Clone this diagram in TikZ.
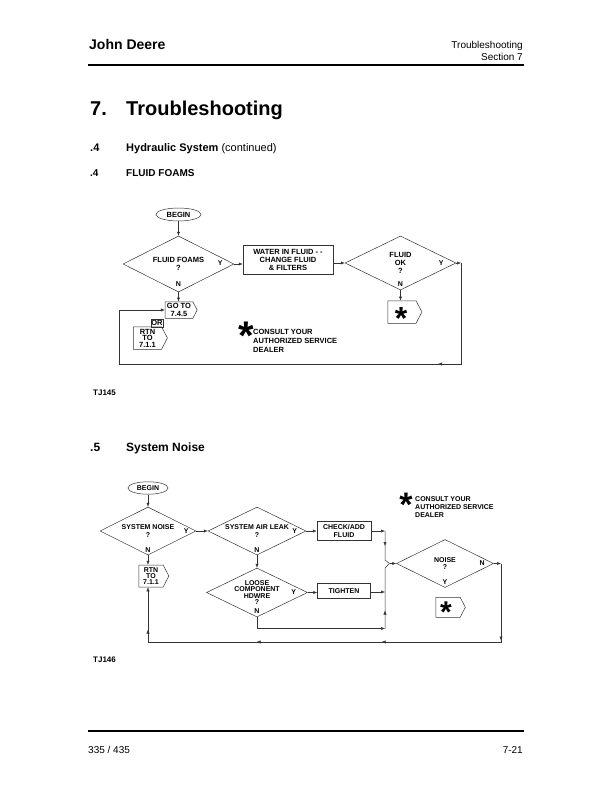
\documentclass[tikz,border=0pt]{standalone}
\usepackage{fontspec}
\setmainfont{Liberation Sans}
\usetikzlibrary{shapes.geometric,shapes.symbols,arrows.meta,calc,decorations.markings}

\begin{document}
\begin{tikzpicture}[x=1pt,y=-1pt,>={Latex[length=4pt,width=3.2pt]},
  ln/.style={draw=black!80,line width=0.5pt},
  flow/.style={ln,->},
  marr/.style={postaction={decorate,decoration={markings,mark=at position #1 with {\arrow{>}}}}},
  ctxt/.style={inner sep=0pt,align=center,font=\fontsize{7.5}{8}\selectfont\bfseries},
  stxt/.style={inner sep=0pt,align=center,font=\fontsize{7}{7.8}\selectfont\bfseries},
  term/.style={ellipse,ln},
  dec/.style={diamond,aspect=2,ln},
  proc/.style={rectangle,ln},
  offpg/.style={signal,signal to=east,signal pointer angle=125,ln},
  yn/.style={inner sep=0pt,font=\fontsize{7}{7}\selectfont\bfseries},
  ast/.style={inner sep=0pt,anchor=base,font=\fontsize{#1}{#1}\selectfont\bfseries},
  hd/.style={inner sep=0pt,anchor=base west}]
\fill[white] (0,0) rectangle (612,792);
\useasboundingbox (0,0) rectangle (612,792);

% page header and titles
\node[hd,font=\fontsize{14}{14}\selectfont\bfseries] (brand) at (89,49) {John Deere};
\node[hd,anchor=base east,font=\fontsize{10}{10}\selectfont] (sect1) at (523,48.5) {Troubleshooting};
\node[hd,anchor=base east,font=\fontsize{10}{10}\selectfont] (sect2) at (523,60.5) {Section 7};
\draw[line width=1.3pt] (88,65) -- (523.5,65);
\node[hd,font=\fontsize{20}{20}\selectfont\bfseries] (chapno) at (90,115) {7.};
\node[hd,font=\fontsize{20}{20}\selectfont\bfseries] (chap) at (126,115) {Troubleshooting};
\node[hd,font=\fontsize{11}{11}\selectfont\bfseries] (hydno) at (90,151.5) {.4};
\node[hd,font=\fontsize{11}{11}\selectfont] (hyd) at (126,151.5) {\textbf{Hydraulic System} (continued)};
\node[hd,font=\fontsize{10}{10}\selectfont\bfseries] (foamno) at (90,176.5) {.4};
\node[hd,font=\fontsize{10}{10}\selectfont\bfseries] (foam) at (126,176.5) {FLUID FOAMS};

% fluid foams chart
\node[term,ctxt,minimum width=45pt,minimum height=13pt] (beg1) at (178.5,214.5) {BEGIN};
\node[dec,ctxt,minimum width=111pt,minimum height=56pt] (ff) at (178.5,264) {FLUID FOAMS\\?};
\node[proc,ctxt,minimum width=90pt,minimum height=29.5pt] (water) at (288,259.5) {WATER IN FLUID - -\\CHANGE FLUID\\\& FILTERS};
\node[dec,ctxt,minimum width=111pt,minimum height=54pt] (ok) at (400.5,263) {FLUID\\OK\\?};
\node[offpg,minimum width=34pt,minimum height=22.5pt] (box1) at (402,312) {};
\node[offpg,ctxt,font=\fontsize{7.5}{7.5}\selectfont\bfseries,minimum width=32pt,minimum height=16.5pt] (goto) at (179,310) {GO TO\\7.4.5};
\node[proc,ctxt,minimum width=12.5pt,minimum height=8pt] (orb) at (157,323) {OR};
\node[offpg,ctxt,font=\fontsize{7.5}{6.5}\selectfont\bfseries,minimum width=34pt,minimum height=22.5pt] (rtn1) at (147.5,338) {RTN\\TO\\7.1.1};
\node[ast=32] (a1) at (401,329.5) {*};
\node[yn] (ffy) at ($(ff.east)+(-14,-1)$) {Y};
\node[yn] (ffn) at ($(ff.south)+(0,-8)$) {N};
\node[yn] (oky) at ($(ok.east)+(-15,0)$) {Y};
\node[yn] (okn) at ($(ok.south)+(0,-6)$) {N};
\node[ast=40] (a2) at (246,349) {*};
\node[ctxt,anchor=west,align=left,font=\fontsize{7.5}{9}\selectfont\bfseries] (note1) at (253,341) {CONSULT YOUR\\AUTHORIZED SERVICE\\DEALER};
\coordinate (c1) at (461,263);
\coordinate (c2) at (461,364);
\coordinate (c3) at (119,364);
\coordinate (c4) at (119,310);
\draw[flow] (beg1.south) -- (ff.north);
\draw[flow] (ff.east) -- (ff.east -| water.west);
\draw[flow] (water.east |- ok.west) -- (ok.west);
\draw[flow] (ff.south) -- (ff.south |- goto.north);
\draw[flow] (ok.south) -- (ok.south |- box1.north);
\draw[flow] (ok.east) -- (c1);
\draw[flow,marr=124pt] (c1) -- (c2) -- (c3) -- (c4) -- (goto.west);
\node[hd,font=\fontsize{8}{8}\selectfont\bfseries] (fig1) at (93,395) {TJ145};

% system noise chart
\node[hd,font=\fontsize{12}{12}\selectfont\bfseries] (noiseno) at (90,451.5) {.5};
\node[hd,font=\fontsize{12}{12}\selectfont\bfseries] (noisetitle) at (126,451.5) {System Noise};
\node[term,stxt,minimum width=40pt,minimum height=12.5pt] (beg2) at (148,488) {BEGIN};
\node[dec,stxt,minimum width=96pt,minimum height=48pt] (sn) at (148,531) {SYSTEM NOISE\\?};
\node[dec,stxt,minimum width=98pt,minimum height=48pt] (sal) at (257,531) {SYSTEM AIR LEAK\\?};
\node[dec,stxt,font=\fontsize{7}{6.2}\selectfont\bfseries,minimum width=101pt,minimum height=49pt] (loose) at (257,592.5) {LOOSE\\COMPONENT\\HDWRE\\?};
\node[proc,stxt,minimum width=54pt,minimum height=19pt] (chk) at (344,531) {CHECK/ADD\\FLUID};
\node[proc,stxt,minimum width=53pt,minimum height=15pt] (tight) at (344,591) {TIGHTEN};
\node[dec,stxt,minimum width=97pt,minimum height=48pt] (noise) at (445,563.5) {NOISE\\?};
\node[offpg,stxt,font=\fontsize{7}{5.8}\selectfont\bfseries,minimum width=30pt,minimum height=22pt] (rtn2) at (151,576) {RTN\\TO\\7.1.1};
\node[offpg,minimum width=29.5pt,minimum height=20pt] (box2) at (448,607.3) {};
\node[ast=30] (a3) at (446,622) {*};
\node[yn] (sny) at ($(sn.east)+(-10,0.5)$) {Y};
\node[yn] (snn) at ($(sn.south)+(0,-5)$) {N};
\node[yn] (saly) at ($(sal.east)+(-11.5,0.5)$) {Y};
\node[yn] (saln) at ($(sal.south)+(0,-5)$) {N};
\node[yn] (loosey) at ($(loose.east)+(-14,-0.5)$) {Y};
\node[yn] (loosen) at ($(loose.south)+(0,-6)$) {N};
\node[yn] (noisen) at ($(noise.east)+(-11.5,0)$) {N};
\node[yn] (noisey) at ($(noise.south)+(0,-5.5)$) {Y};
\node[ast=34] (a4) at (406,516) {*};
\node[stxt,anchor=west,align=left,font=\fontsize{7}{8}\selectfont\bfseries] (note2) at (415,507) {CONSULT YOUR\\AUTHORIZED SERVICE\\DEALER};
\coordinate (k1) at (385,531);
\coordinate (k2) at (385,592);
\coordinate (k3) at (385,628.5);
\coordinate (l1) at (257,628.5);
\coordinate (j1) at (385,560);
\coordinate (j2) at (385,568);
\coordinate (jn) at (389.5,563.5);
\coordinate (k4) at (501,563.5);
\coordinate (k5) at (501,642);
\coordinate (k6) at (148,642);
\draw[flow] (beg2.south) -- (sn.north);
\draw[flow] (sn.east) -- (sal.west);
\draw[flow] (sn.south) -- (sn.south |- rtn2.north);
\draw[flow] (sal.east) -- (chk.west);
\draw[flow] (sal.south) -- (loose.north);
\draw[flow] (loose.east) -- (loose.east -| tight.west);
\draw[flow] (chk.east) -- (k1);
\draw[ln,marr=15pt] (k1) -- (j1) -- (jn);
\draw[flow] (tight.east |- k2) -- (k2);
\draw[flow] (loose.south) -- (l1) -- (k3);
\draw[ln,marr=18pt] (k3) -- (j2) -- (jn);
\draw[flow] (jn) -- (noise.west);
\draw[flow] (noise.east) -- (k4);
\draw[flow,marr=77pt,marr=198pt,marr=323pt,marr=444pt] (k4) -- (k5) -- (k6) -- (k6 |- rtn2.south);
\node[hd,font=\fontsize{8}{8}\selectfont\bfseries] (fig2) at (93,662.3) {TJ146};

% page footer
\draw[line width=1.3pt] (88,731) -- (523.5,731);
\node[hd,font=\fontsize{10}{10}\selectfont] (page) at (88,753.3) {335 / 435};
\node[hd,anchor=base east,font=\fontsize{10}{10}\selectfont] (pageno) at (523,753.3) {7-21};
\end{tikzpicture}
\end{document}
